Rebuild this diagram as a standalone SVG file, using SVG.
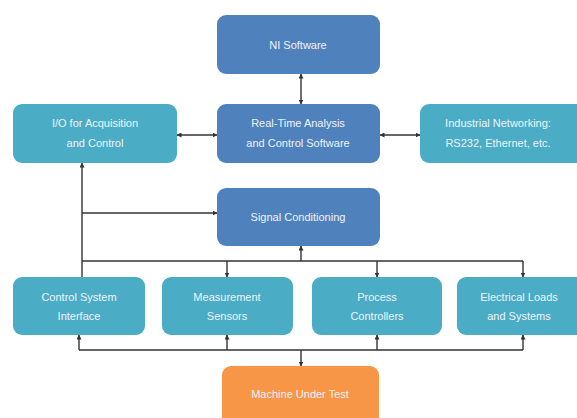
<svg xmlns="http://www.w3.org/2000/svg" width="577" height="418" viewBox="0 0 577 418">
<style>
.b{fill:#4F81BD}
.t{fill:#4BACC6}
.o{fill:#F79646}
text{font-family:"Liberation Sans",Arial,sans-serif;font-size:11px;fill:#EEF4FA;text-anchor:middle}
.c{stroke:#333;stroke-width:1.4;fill:none}
</style>
<defs>
<marker id="a" viewBox="0 0 10 10" refX="9" refY="5" markerWidth="5" markerHeight="5" orient="auto-start-reverse" markerUnits="userSpaceOnUse">
<path d="M0,0L10,5L0,10z" fill="#333"/>
</marker>
</defs>
<rect width="577" height="418" fill="#fff"/>
<g id="connectors" class="c">
<line x1="301" y1="74" x2="301" y2="104" marker-start="url(#a)" marker-end="url(#a)"/>
<line x1="177" y1="135" x2="217" y2="135" marker-start="url(#a)" marker-end="url(#a)"/>
<line x1="380" y1="135" x2="420" y2="135" marker-start="url(#a)" marker-end="url(#a)"/>
<line x1="82" y1="277" x2="82" y2="163" marker-end="url(#a)"/>
<line x1="82" y1="213" x2="217" y2="213" marker-end="url(#a)"/>
<line x1="301" y1="261" x2="301" y2="246" marker-end="url(#a)"/>
<line x1="82" y1="261" x2="523" y2="261"/>
<line x1="227" y1="261" x2="227" y2="277" marker-end="url(#a)"/>
<line x1="377" y1="261" x2="377" y2="277" marker-end="url(#a)"/>
<line x1="523" y1="261" x2="523" y2="277" marker-end="url(#a)"/>
<line x1="79" y1="350" x2="523" y2="350"/>
<line x1="79" y1="350" x2="79" y2="335" marker-end="url(#a)"/>
<line x1="227" y1="350" x2="227" y2="335" marker-end="url(#a)"/>
<line x1="377" y1="350" x2="377" y2="335" marker-end="url(#a)"/>
<line x1="523" y1="350" x2="523" y2="335" marker-end="url(#a)"/>
<line x1="301" y1="350" x2="301" y2="366" marker-end="url(#a)"/>
</g>
<g id="ni"><rect class="b" x="217" y="15" width="163" height="59" rx="9"/><text x="298" y="49">NI Software</text></g>
<g id="rt"><rect class="b" x="217" y="104" width="163" height="59" rx="9"/><text x="298" y="127">Real-Time Analysis</text><text x="298" y="147">and Control Software</text></g>
<g id="io"><rect class="t" x="13" y="104" width="164" height="59" rx="9"/><text x="95" y="127">I/O for Acquisition</text><text x="95" y="147">and Control</text></g>
<g id="net"><rect class="t" x="420" y="104" width="165" height="59" rx="9"/><text x="498" y="127">Industrial Networking:</text><text x="498" y="147">RS232, Ethernet, etc.</text></g>
<g id="sc"><rect class="b" x="217" y="188" width="163" height="58" rx="9"/><text x="298" y="221">Signal Conditioning</text></g>
<g id="csi"><rect class="t" x="13" y="277" width="132" height="58" rx="9"/><text x="79" y="301">Control System</text><text x="79" y="320">Interface</text></g>
<g id="ms"><rect class="t" x="162" y="277" width="131" height="58" rx="9"/><text x="227" y="301">Measurement</text><text x="227" y="320">Sensors</text></g>
<g id="pc"><rect class="t" x="312" y="277" width="130" height="58" rx="9"/><text x="377" y="301">Process</text><text x="377" y="320">Controllers</text></g>
<g id="el"><rect class="t" x="457" y="277" width="128" height="58" rx="9"/><text x="519" y="301">Electrical Loads</text><text x="519" y="320">and Systems</text></g>
<g id="mut"><rect class="o" x="222" y="366" width="157" height="62" rx="9"/><text x="300" y="398">Machine Under Test</text></g>
</svg>
